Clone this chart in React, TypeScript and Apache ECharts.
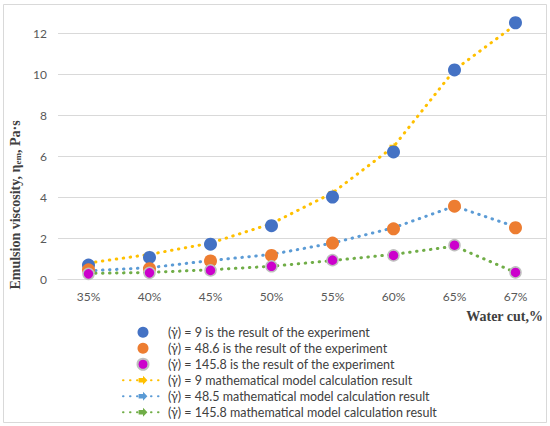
import React, { useEffect, useRef } from "react";
import * as echarts from "echarts";

const categories = ["35%", "40%", "45%", "50%", "55%", "60%", "65%", "67%"];
const exp9 = [0.68, 1.05, 1.7, 2.6, 4.0, 6.2, 10.2, 12.5];
const exp486 = [0.45, 0.5, 0.88, 1.15, 1.75, 2.45, 3.55, 2.5];
const exp1458 = [0.25, 0.3, 0.42, 0.62, 0.92, 1.15, 1.65, 0.32];
const model9 = [0.78, 1.2, 1.75, 2.7, 4.2, 6.45, 10.2, 12.4];
const model485 = [0.4, 0.55, 0.9, 1.2, 1.75, 2.5, 3.55, 2.55];
const model1458 = [0.27, 0.32, 0.45, 0.62, 0.9, 1.2, 1.6, 0.32];
const yTicks = [0, 2, 4, 6, 8, 10, 12];

const names = [
  "(γ̇) = 9 is the result of the experiment",
  "(γ̇) = 48.6 is the result of the experiment",
  "(γ̇) = 145.8 is the result of the experiment",
  "(γ̇) = 9 mathematical model calculation result",
  "(γ̇) = 48.5 mathematical model calculation result",
  "(γ̇) = 145.8 mathematical model calculation result",
];

const arrow = "path://M0,3 L6,3 L6,0 L12,6 L6,12 L6,9 L0,9 Z";

export default function App() {
  const ref = useRef<HTMLDivElement>(null);
  useEffect(() => {
    document.body.style.margin = "0";
    const chart = echarts.init(ref.current!, null, { renderer: "svg" });
    const lineSeries = (name: string, data: number[], color: string) => ({
      name,
      type: "line",
      data,
      clip: false,
      symbol: arrow,
      symbolSize: 8,
      showAllSymbol: true,
      itemStyle: { color },
      lineStyle: { color, width: 3, type: [0.5, 6.5], cap: "round" },
      z: 2,
    });
    const scatterSeries = (name: string, data: number[], color: string, border?: boolean) => ({
      name,
      type: "scatter",
      data,
      clip: false,
      symbol: "circle",
      symbolSize: border ? 11 : 13,
      itemStyle: border
        ? { color, borderColor: "#BFBFBF", borderWidth: 1.5, opacity: 1 }
        : { color, opacity: 1 },
      z: 3,
    });
    chart.setOption({
      animation: false,
      grid: { left: 58, right: 4, top: 33, bottom: 147 },
      xAxis: {
        type: "category",
        data: categories,
        boundaryGap: true,
        axisLine: { lineStyle: { color: "#D9D9D9" } },
        axisTick: { show: false },
        axisLabel: { color: "#595959", fontFamily: "Lato", fontSize: 12, margin: 11 },
      },
      yAxis: {
        type: "value",
        min: 0,
        max: 12,
        interval: 2,
        axisLine: { show: false },
        axisTick: { show: false },
        axisLabel: {
          color: "#595959",
          fontFamily: "Lato",
          fontSize: 12,
          margin: 11,
          formatter: (v: number) => (yTicks.includes(v) ? String(v) : ""),
        },
        splitLine: { lineStyle: { color: "#D9D9D9", width: 1 } },
      },
      legend: {
        orient: "vertical",
        left: 122,
        top: 325,
        padding: 0,
        height: 101,
        itemWidth: 40,
        itemHeight: 11,
        itemGap: 1.5,
        data: names,
        textStyle: { color: "#404040", fontFamily: "Lato", fontSize: 12.5, lineHeight: 14.5 },
      },
      graphic: [
        {
          type: "rect",
          shape: { x: 3.5, y: 4.5, width: 543, height: 418 },
          style: { fill: "none", stroke: "#D9D9D9", lineWidth: 1 },
          silent: true,
        },
        {
          type: "text",
          x: 15,
          y: 205,
          rotation: Math.PI / 2,
          style: {
            text: "{a|Emulsion viscosity, η}{s|em}{a|, Pa·s}",
            align: "center",
            verticalAlign: "middle",
            rich: {
              a: { fontFamily: "Liberation Serif", fontWeight: "bold", fontSize: 14, fill: "#404040" },
              s: { fontFamily: "Liberation Serif", fontWeight: "bold", fontSize: 9, fill: "#404040", padding: [6, 0, 0, 0] },
            },
          },
        },
        {
          type: "text",
          x: 543,
          y: 316,
          style: {
            text: "Water cut,%",
            align: "right",
            verticalAlign: "middle",
            fontFamily: "Liberation Serif",
            fontWeight: "bold",
            fontSize: 14,
            fill: "#404040",
          },
        },
      ],
      series: [
        lineSeries(names[3], model9, "#FFC000"),
        lineSeries(names[4], model485, "#5B9BD5"),
        lineSeries(names[5], model1458, "#70AD47"),
        scatterSeries(names[0], exp9, "#4472C4"),
        scatterSeries(names[1], exp486, "#ED7D31"),
        scatterSeries(names[2], exp1458, "#CC00CC", true),
      ],
    });
    return () => chart.dispose();
  }, []);
  return <div ref={ref} style={{ width: 550, height: 426 }} />;
}
